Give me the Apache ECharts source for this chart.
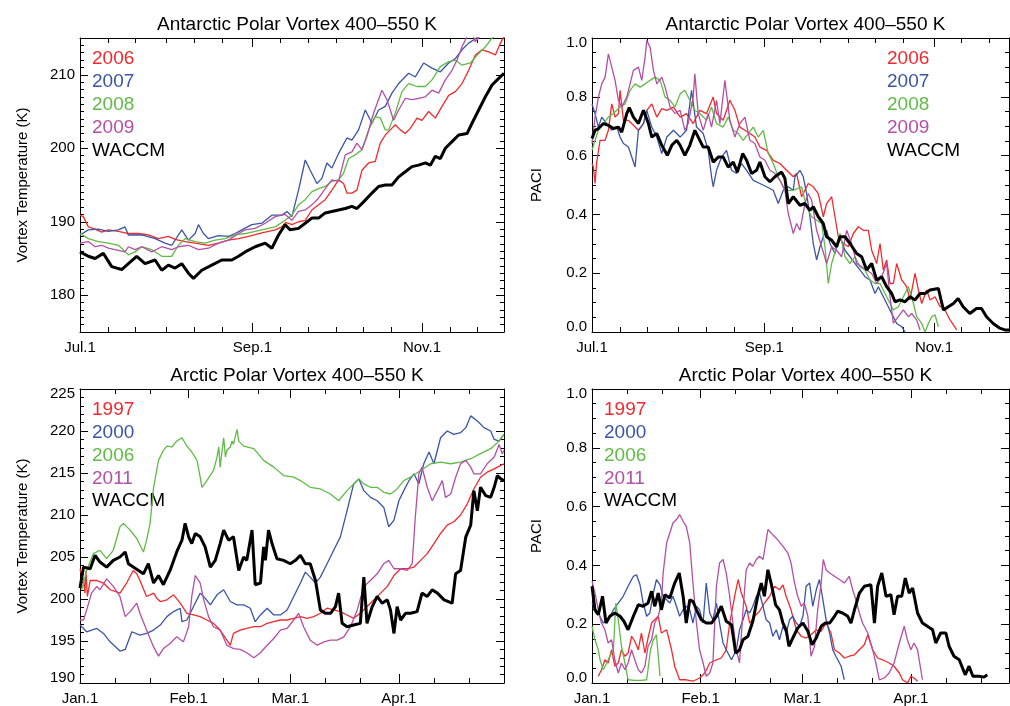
<!DOCTYPE html>
<html><head><meta charset="utf-8">
<script src="https://cdn.jsdelivr.net/npm/echarts@6/dist/echarts.min.js"></script>
<style>html,body{margin:0;padding:0;background:#fff}#c{width:1010px;height:706px}</style>
</head><body><div id="c"></div>
<script>
// ---------- Antarctic: days since Jul.1 ----------
const antTickDays = [0, 62, 123];
const antTickLabels = ['Jul.1', 'Sep.1', 'Nov.1'];
const antMinorDays = [10, 20, 31, 41, 51, 72, 82, 92, 102, 112, 133, 143];
// ---------- Arctic: days since Jan.1 ----------
const arcTickDays = [0, 31, 60, 91];
const arcTickLabels = ['Jan.1', 'Feb.1', 'Mar.1', 'Apr.1'];
const arcMinorDays = [10, 20, 41, 51, 70, 80, 101, 111];

const antYears = ['2006', '2007', '2008', '2009', 'WACCM'];
const arcYears = ['1997', '2000', '2006', '2011', 'WACCM'];

// Top-left: Antarctic vortex temperature (K)
const tlT2006 = [[0,190.9],[1.2,190.7],[3,189.3],[5.4,189.0],[7.8,188.6],[10.2,188.9],[13.8,188.7],[17.4,188.4],[21,188.4],[24.6,188.2],[28.2,187.7],[31.8,188.0],[34.2,187.6],[37.8,187.3],[41.4,187.1],[46.2,186.8],[49.8,187.1],[53.4,187.5],[57,187.7],[60.6,188.0],[65.4,188.5],[70.2,188.9],[72.6,189.3],[74,189.9],[76.2,189.6],[78.6,190.0],[81,190.2],[83.4,191.6],[85.8,192.3],[88.2,193.0],[90.6,194.3],[93,195.7],[94.8,195.2],[96,193.9],[97.8,193.9],[99.6,194.3],[101.4,197.0],[103.8,198.0],[106.2,198.2],[108,200.7],[109.8,201.8],[111.6,202.5],[113.4,203.2],[115.2,202.5],[117,202.0],[118.8,202.7],[121.2,204.1],[123,203.8],[125.4,205.0],[127.8,204.1],[130.2,205.7],[132.6,207.2],[135,207.7],[137.4,208.8],[139.8,210.6],[142.2,212.7],[144.6,213.4],[147,213.1],[149.4,212.7],[151.2,214.3],[152.5,215.2]];
const tlT2007 = [[0,188.2],[3,188.9],[6.6,189.0],[10.2,188.7],[13.8,188.9],[16.2,189.3],[17.4,188.2],[22.2,188.2],[27,187.7],[30.6,187.1],[33,186.8],[36.6,188.9],[39,187.5],[41.4,188.4],[42.6,189.6],[44.4,188.4],[46.2,187.7],[49.8,188.1],[53.4,188.0],[55.8,188.4],[58.2,188.9],[61.8,189.6],[65.4,189.8],[69,190.9],[72.6,190.9],[74.5,191.4],[76.2,190.7],[78.6,194.3],[81,198.4],[82.8,197.0],[85.2,195.2],[87,195.9],[88.8,198.0],[90.6,197.3],[93,199.3],[96,201.4],[97.8,201.1],[100.2,202.5],[102.6,205.2],[105,203.4],[107.4,205.2],[109.8,205.7],[112.2,207.5],[114.6,208.8],[118.2,210.2],[120.6,209.7],[123.6,211.6],[126.6,210.9],[129.6,210.4],[132.6,211.6],[135,212.2],[137.4,213.4],[139.8,214.3],[143.4,215.2],[146,216.2],[152.5,218]];
const tlT2008 = [[0,188.4],[3,187.7],[6.6,187.3],[10.2,187.1],[13.8,186.8],[17.4,185.5],[19.8,185.9],[22.2,186.6],[25.8,186.2],[29.4,185.3],[33,185.3],[35.4,186.8],[37.8,187.7],[41.4,187.3],[45,187.1],[48.6,187.5],[52.2,187.7],[55.8,188.2],[59.4,188.4],[63,188.7],[66.6,189.0],[70.2,189.3],[73.8,190.2],[76.2,190.9],[78.6,192.3],[81,193.0],[83.4,194.1],[85.8,194.5],[88.2,194.8],[90.6,195.5],[93,195.7],[94.8,196.6],[96.6,198.6],[99,199.1],[101.4,199.8],[103.8,202.5],[106.2,204.3],[108,204.1],[109.8,202.5],[111,202.5],[113.4,204.8],[115.8,207.7],[118.2,208.8],[121.2,208.4],[124.2,208.4],[126.6,209.3],[129.6,211.1],[132.6,211.8],[135,212.0],[137.4,211.3],[140.4,211.6],[143.4,212.9],[145.8,213.8],[148.2,215.0],[150.6,215.6],[152.5,216.2]];
const tlT2009 = [[0,187.1],[3,187.3],[5.4,186.6],[7.8,186.8],[10.2,186.4],[12.6,186.2],[16.2,185.9],[17.4,186.6],[19.8,186.2],[22.2,186.6],[25.8,185.9],[29.4,186.6],[33,186.2],[35.4,186.6],[39,186.8],[42.6,186.2],[46.2,186.4],[49.8,187.1],[53.4,187.5],[57,188.4],[59.4,188.9],[63,189.1],[66.6,189.8],[70.2,190.7],[73.8,191.0],[76.2,190.2],[78.6,191.4],[81,191.6],[83.4,192.3],[85.8,193.2],[88.2,194.5],[90.6,195.7],[93,195.5],[95.4,199.1],[97.8,199.5],[99.6,200.7],[101.4,199.8],[103.2,201.6],[105.6,204.8],[108.6,207.9],[110.4,206.6],[112.8,203.8],[114.6,205.2],[117,206.8],[119.4,206.6],[121.8,206.8],[124.2,207.0],[126.6,207.9],[129,207.5],[131.4,209.3],[133.8,210.6],[135.6,212.0],[137.4,213.8],[139.2,215.2],[141,215.6],[142.2,214.5],[144.6,215.6],[148,217]];
const tlTWaccm = [[0,185.9],[3,185.3],[5.4,185.0],[8.4,185.7],[11.4,183.9],[15,183.5],[17.4,184.3],[20.4,185.3],[23.4,184.3],[27,184.8],[29.4,183.4],[31.8,184.1],[34.2,183.7],[36.6,184.3],[39,183.0],[40.8,182.3],[43.8,183.4],[47.4,184.1],[51,184.8],[54.6,184.8],[57,185.3],[59.4,185.9],[63,186.6],[66.6,187.1],[69,186.4],[71.4,188.2],[73.8,189.6],[75.6,188.9],[78.6,189.1],[81,189.8],[83.4,190.5],[85.8,190.5],[88.2,191.2],[90.6,191.4],[93,191.6],[95.4,191.8],[97.8,192.1],[99.6,191.8],[102,192.7],[105,193.9],[107.4,194.8],[109.8,195.0],[112.2,195.0],[114.6,196.1],[117,196.8],[119.4,197.5],[121.8,197.7],[124.2,198.0],[126,197.7],[127.8,198.9],[129.6,198.6],[131.4,200.0],[133.8,200.9],[136.2,201.8],[139.2,202.0],[141,203.4],[143.4,205.2],[145.8,207.0],[148.2,208.6],[150.6,209.5],[152.5,210.2]];

// Top-right: Antarctic PACI
const trP2006 = [[0,0.573],[0.5,0.561],[1.1,0.505],[1.7,0.578],[2.9,0.652],[4.7,0.652],[5.9,0.686],[7.1,0.776],[8.3,0.731],[9.5,0.743],[10.1,0.822],[11.3,0.72],[13.1,0.72],[14.9,0.703],[16.7,0.686],[18.5,0.709],[19.7,0.754],[21.5,0.776],[23.3,0.731],[25.1,0.76],[26.9,0.754],[29.3,0.765],[31.7,0.731],[34,0.743],[36.4,0.709],[38.8,0.754],[41.2,0.743],[43.6,0.799],[44.8,0.743],[47.2,0.72],[49.6,0.788],[51.4,0.754],[53.2,0.697],[55,0.686],[56.8,0.675],[58.6,0.663],[60.4,0.629],[62.8,0.618],[65.2,0.584],[67.6,0.573],[70,0.55],[72.4,0.528],[73.6,0.539],[75.4,0.46],[77.8,0.505],[79.6,0.494],[81.4,0.471],[83.2,0.392],[84.4,0.437],[86.2,0.46],[87.4,0.392],[88.6,0.324],[90.4,0.301],[92.2,0.29],[94,0.335],[95.8,0.358],[97.6,0.346],[99.4,0.346],[100.6,0.278],[102.4,0.233],[103.6,0.301],[104.8,0.211],[106,0.245],[107.2,0.165],[108.4,0.165],[109.6,0.233],[111.4,0.177],[113.2,0.154],[114.4,0.109],[116.2,0.199],[117.4,0.143],[118.6,0.097],[120.4,0.143],[121.6,0.109],[123.4,0.12],[125.2,0.086],[126.4,0.086],[127.6,0.063],[128.8,0.041],[130,0.024],[131.2,0.007]];
const trP2007 = [[0,0.776],[1.1,0.743],[2.3,0.697],[3.5,0.731],[5.3,0.709],[7.1,0.686],[8.9,0.697],[10.1,0.663],[11.3,0.641],[13.1,0.629],[14.3,0.595],[15.5,0.561],[16.7,0.686],[18.5,0.709],[19.7,0.754],[21.5,0.697],[23.3,0.663],[25.1,0.607],[26.9,0.663],[29.3,0.686],[31.7,0.663],[34,0.686],[35.8,0.822],[37.6,0.697],[40,0.675],[41.8,0.618],[43,0.528],[43.6,0.494],[44.8,0.55],[46.6,0.595],[48.4,0.618],[50.2,0.55],[52,0.539],[53.8,0.573],[55.6,0.55],[58,0.516],[60.4,0.505],[62.8,0.494],[65.2,0.482],[67,0.437],[68.8,0.482],[70.6,0.494],[72.4,0.482],[73,0.528],[74.8,0.55],[76,0.528],[77.2,0.471],[78.4,0.392],[79.6,0.301],[80.8,0.245],[82,0.29],[83.2,0.324],[84.4,0.346],[85.6,0.301],[87.4,0.267],[89.2,0.324],[91,0.278],[92.8,0.256],[94.6,0.233],[96.4,0.211],[98.2,0.188],[100,0.177],[101.8,0.131],[103,0.154],[104.2,0.131],[106,0.097],[107.8,0.063],[109.6,0.029],[111.4,0.018],[112.6,0]];
const trP2008 = [[0,0.618],[1.1,0.652],[2.3,0.686],[4.1,0.709],[5.9,0.731],[7.7,0.743],[10.1,0.765],[11.9,0.776],[13.7,0.822],[15.5,0.844],[17.3,0.833],[19.1,0.844],[20.9,0.856],[22.7,0.867],[24.5,0.856],[26.3,0.799],[28.1,0.788],[29.9,0.765],[31.7,0.81],[33.4,0.822],[35.2,0.788],[37,0.754],[38.8,0.743],[41.2,0.72],[43,0.765],[44.8,0.709],[47.2,0.697],[49,0.731],[50.8,0.686],[52.6,0.675],[54.4,0.652],[56.2,0.675],[58,0.697],[59.8,0.663],[61.6,0.686],[63.4,0.607],[65.2,0.573],[67,0.528],[68.8,0.494],[70.6,0.482],[72.4,0.482],[75.4,0.494],[77.2,0.426],[79,0.392],[80.8,0.38],[82.6,0.369],[83.8,0.29],[85,0.165],[86.2,0.233],[88,0.29],[89.2,0.335],[91,0.256],[92.8,0.233],[94.6,0.256],[96.4,0.222],[98.2,0.211],[100,0.177],[101.8,0.165],[103.6,0.165],[105.4,0.131],[107.2,0.097],[108.4,0.075],[110.2,0.086],[112,0.12],[113.8,0.154],[115,0.12],[116.8,0.052],[118.6,0.029],[119.8,0],[121,0.029],[122.2,0.052],[123.4,0.058],[124.6,0.018]];
const trP2009 = [[0,0.641],[1.1,0.731],[2.3,0.799],[3.5,0.844],[4.7,0.867],[5.9,0.946],[7.1,0.901],[8.3,0.856],[9.5,0.788],[10.7,0.765],[12.5,0.799],[13.7,0.844],[14.9,0.89],[16.7,0.901],[17.9,0.856],[19.1,0.935],[19.7,0.992],[20.9,0.969],[22.1,0.89],[23.3,0.844],[25.1,0.867],[26.3,0.833],[28.1,0.765],[29.9,0.743],[31.7,0.754],[33.4,0.686],[34.6,0.709],[36.4,0.799],[37,0.878],[38.2,0.743],[40,0.686],[41.8,0.743],[43,0.697],[44.8,0.788],[46,0.709],[47.8,0.856],[49.6,0.72],[51.4,0.663],[53.2,0.709],[55,0.731],[56.8,0.652],[58.6,0.641],[60.4,0.595],[62.2,0.584],[64,0.55],[65.8,0.539],[67.6,0.516],[69.4,0.482],[70.6,0.403],[71.8,0.358],[72.4,0.335],[73.6,0.369],[74.8,0.346],[76.6,0.437],[77.8,0.471],[79,0.448],[80.8,0.346],[82.6,0.29],[84.4,0.233],[86.2,0.29],[88,0.278],[89.8,0.256],[91.6,0.346],[93.4,0.301],[95.2,0.233],[97,0.222],[98.8,0.211],[100.6,0.199],[102.4,0.165],[104.2,0.188],[106,0.233],[107.2,0.12],[108.4,0.03],[110.2,0.052],[112,0.075],[113.8,0.052],[115,0.063],[116.8,0.041],[118,0.007]];
const trPWaccm = [[0,0.658],[1.1,0.686],[2.3,0.692],[4.1,0.709],[5.9,0.703],[7.7,0.692],[9.5,0.697],[10.7,0.68],[12.5,0.743],[13.4,0.763],[14.9,0.731],[16.7,0.709],[18.5,0.754],[20.3,0.709],[21.5,0.663],[23.3,0.675],[25.1,0.635],[27.1,0.601],[28.7,0.635],[30.5,0.652],[31.7,0.635],[33.4,0.601],[35.2,0.635],[37,0.686],[38.8,0.652],[40,0.629],[41.8,0.629],[43.6,0.578],[45.4,0.595],[47.2,0.595],[49,0.561],[50.8,0.578],[52.3,0.544],[54.2,0.607],[55.6,0.584],[57.4,0.539],[59.2,0.55],[60.4,0.578],[62.2,0.528],[64,0.511],[65.8,0.528],[68.2,0.544],[69.4,0.522],[70.6,0.437],[72.4,0.46],[74.8,0.431],[76.6,0.437],[78.4,0.414],[79.6,0.426],[81.4,0.392],[83.2,0.369],[84.4,0.324],[86.2,0.312],[88,0.29],[89.2,0.324],[91,0.324],[92.8,0.301],[95.2,0.267],[97,0.256],[98.8,0.211],[100.6,0.233],[102.4,0.177],[104.2,0.188],[106,0.154],[107.8,0.131],[109,0.103],[110.8,0.109],[112.6,0.103],[114.4,0.12],[116.2,0.109],[118,0.131],[119.8,0.131],[121.6,0.143],[124.6,0.148],[126.4,0.075],[128.2,0.086],[130,0.097],[131.7,0.114],[133.5,0.086],[135.9,0.063],[138.3,0.08],[140.1,0.08],[141.9,0.052],[144.3,0.029],[146.7,0.013],[148.5,0.007],[150,0.007]];

// Bottom-left: Arctic vortex temperature (K)
const blT1997 = [[0,203.6],[1,202.2],[1.4,200.7],[1.7,203.4],[2.1,200.3],[2.9,202.2],[4.8,202.2],[6.7,201.9],[8.6,201.1],[10,200.9],[11.4,200.7],[13.3,201.9],[15.2,203.4],[16.2,203.0],[17.1,202.2],[19,200.3],[21,200.7],[21.9,200.1],[22.9,199.7],[24.8,199.9],[26.7,200.5],[28.6,199.5],[30.5,198.3],[32.4,198.1],[34.3,197.9],[36.2,197.5],[38.1,197.1],[40,196.3],[41.9,195.1],[42.9,194.5],[43.8,195.9],[45.7,196.3],[47.6,196.5],[49.6,196.7],[51.5,196.7],[53.4,197.1],[55.3,197.3],[57.2,197.5],[59.1,197.5],[61,197.7],[62.9,197.9],[64.8,197.7],[66.7,197.9],[68.6,198.3],[70.5,198.9],[72.4,198.7],[74.3,198.5],[76.2,198.1],[78.1,197.7],[80,198.3],[81.9,199.1],[83.9,199.9],[85.8,200.7],[87.7,201.5],[89.6,202.8],[91.5,203.6],[93.4,203.6],[95.3,203.8],[97.2,204.6],[99.1,205.4],[101,206.6],[102.9,207.8],[104.8,208.8],[106.7,209.2],[108.6,210.0],[110.5,211.3],[112.4,213.1],[114.3,214.5],[116.2,215.1],[118.2,215.5],[120.1,215.9],[121,216.1]];
const blT2000 = [[0,196.9],[1.9,196.1],[4.8,196.5],[6.7,195.9],[8.6,194.9],[11.4,193.8],[12.9,194.0],[14.8,196.1],[17.1,195.7],[19,195.9],[21,196.3],[22.9,196.9],[24.8,197.9],[26.7,198.5],[28.6,198.9],[29.1,197.3],[30.5,197.5],[32.4,199.1],[34.3,200.7],[35.7,200.1],[37.2,199.3],[39.1,200.5],[41,201.1],[42.9,199.7],[44.8,199.3],[46.7,199.3],[48.6,198.9],[50,197.3],[51.5,198.1],[53.4,198.9],[55.3,198.1],[57.2,198.1],[59.1,198.7],[61,200.3],[62.9,201.9],[64.3,203.2],[65.7,202.6],[67.2,201.9],[68.6,202.6],[70.5,204.2],[72.4,205.8],[74.3,207.4],[76.2,210.5],[78.1,213.7],[79.6,214.3],[81,212.9],[82.9,212.1],[84.8,211.7],[86.7,210.9],[88.1,208.6],[89.6,209.4],[91,211.7],[92.4,212.9],[93.9,214.1],[95.3,214.9],[96.7,213.7],[98.1,216.1],[99.6,217.5],[101,216.1],[102.9,219.2],[104.8,220.0],[106.7,219.6],[108.6,219.8],[110.1,220.4],[111.5,221.8],[113.4,221.2],[115.3,220.4],[117.2,220.0],[118.2,219.0],[119.6,218.8],[121,219.6]];
const blT2006 = [[0.5,201.1],[1.9,203.4],[3.8,205.4],[5.7,205.8],[7.6,204.8],[9.5,205.8],[11.4,208.6],[12.4,209.0],[14.3,208.2],[16.2,207.2],[18.1,205.6],[19,207.0],[20,209.0],[21,213.3],[22.4,216.5],[23.8,217.7],[24.8,218.2],[26.2,218.1],[27.6,218.8],[29.1,219.2],[30.5,218.2],[31.9,217.5],[33.4,216.5],[34.3,214.5],[34.8,213.3],[36.2,214.1],[38.1,215.3],[39.1,216.9],[39.6,218.1],[40,215.7],[41,219.2],[41.5,216.9],[41.9,217.7],[42.9,218.1],[43.4,218.8],[43.8,218.4],[44.8,220.2],[45.3,218.8],[46.7,218.2],[49.6,217.9],[52.4,216.5],[55.3,215.7],[58.1,214.7],[61,214.5],[62.9,214.1],[65.7,213.3],[68.6,213.1],[71.5,212.5],[73.8,211.7],[76.2,212.9],[78.1,213.7],[79.6,214.3],[81,213.7],[82.9,213.3],[84.8,213.3],[86.7,212.7],[88.6,212.5],[90.5,213.1],[92.4,214.1],[94.3,214.5],[97.2,215.3],[100.1,216.1],[102.9,216.3],[105.8,216.1],[108.6,216.3],[111.5,216.7],[114.3,217.3],[117.2,217.9],[119.1,218.6],[121,219.6]];
const blT2011 = [[0,197.5],[1,197.5],[1.9,198.7],[3.3,200.7],[4.8,201.5],[5.7,201.1],[7.6,202.4],[9.5,201.5],[11.4,200.3],[12.9,197.9],[14.3,198.5],[16.2,199.5],[17.1,198.3],[19,196.3],[21,194.3],[22.4,193.2],[23.8,194.1],[25.7,194.7],[27.6,195.5],[29.5,194.9],[31,196.7],[31.9,200.3],[32.9,202.8],[34.3,201.9],[35.3,199.9],[36.7,197.9],[38.1,196.7],[40,196.3],[41.9,194.5],[43.8,194.1],[45.7,194.0],[47.6,193.6],[49.6,193.0],[51.5,193.6],[53.4,194.5],[55.3,195.3],[57.2,196.3],[59.1,196.5],[61,197.5],[62.4,198.3],[63.8,196.7],[65.7,195.1],[67.7,194.5],[69.6,194.9],[71.5,195.1],[73.4,195.1],[75.3,195.5],[77.2,196.7],[79.1,198.7],[81,201.5],[82.9,202.2],[84.8,203.0],[86.7,204.2],[88.1,204.6],[89.6,203.6],[91.5,203.6],[93.4,203.4],[94.8,204.2],[95.7,209.8],[96.7,214.9],[97.6,215.7],[99.1,213.3],[100.5,211.7],[102,212.9],[103.4,214.1],[104.3,212.1],[105.8,212.5],[107.2,214.5],[108.6,216.1],[110.1,216.5],[111.5,215.7],[112.4,214.9],[114.3,214.9],[116.2,216.1],[118.2,216.9],[119.6,218.4],[120.5,217.3],[121,217.7]];
const blTWaccm = [[0,201.3],[1,203.8],[2.9,203.6],[4.3,205.2],[5.7,204.4],[7.6,203.8],[9.5,204.6],[11.4,205.0],[12.9,205.6],[13.8,204.2],[15.2,203.8],[16.7,203.4],[18.1,203.0],[19.5,204.2],[21,201.9],[22.4,202.8],[23.8,201.7],[25.7,203.4],[27.6,205.6],[29.1,207.0],[30,209.0],[31,207.4],[31.9,206.6],[32.9,207.8],[34.3,207.4],[35.7,206.2],[37.2,203.8],[38.6,204.6],[40,206.6],[41,208.2],[42.4,207.0],[43.8,207.4],[45.3,203.4],[46.7,205.0],[47.6,204.6],[49.1,208.2],[50,201.7],[51.5,201.9],[52.4,206.2],[52.9,204.6],[53.8,208.2],[54.8,206.6],[56.2,204.8],[58.1,204.6],[60,204.2],[61.5,204.6],[62.9,205.2],[64.3,204.2],[65.7,204.2],[67.2,202.2],[68.6,198.7],[70,198.3],[71.5,198.3],[72.9,199.1],[73.8,200.7],[74.8,197.1],[76.2,196.7],[78.1,196.9],[80,197.1],[81,202.6],[81.9,197.1],[83.4,199.1],[84.8,200.3],[86.2,199.5],[87.7,199.9],[88.6,198.7],[89.6,195.9],[90.5,199.1],[91.5,197.5],[92.9,198.3],[94.3,198.3],[96.2,198.5],[97.6,200.7],[99.1,200.3],[100.5,201.1],[102,200.7],[103.9,199.9],[106.2,199.5],[107.2,203.0],[108.6,203.4],[110.1,207.4],[111.5,208.8],[112.4,212.9],[113.4,210.5],[114.3,213.3],[115.8,212.3],[117.2,212.1],[118.2,213.3],[119.1,214.7],[120.1,214.3],[121,214.1]];

// Bottom-right: Arctic PACI
const brP1997 = [[1.8,0.023],[2.7,0.045],[3.7,0.079],[4.6,0.068],[5.6,0.113],[6.5,0.057],[7.5,0.068],[8.4,0.113],[9.4,0.091],[10.3,0.102],[11.3,0.159],[12.2,0.142],[13.2,0.113],[14.1,0.17],[15.1,0.102],[16,0.153],[17,0.204],[17.9,0.215],[18.9,0.227],[19.8,0.17],[21.3,0.181],[22.7,0.113],[23.6,0.057],[25,0.011],[26.9,0.011],[28.8,0.006],[30.7,0.017],[32.2,0.034],[33.6,0.068],[35.5,0.079],[36.9,0.085],[38.3,0.113],[39.3,0.204],[40.7,0.295],[41.7,0.352],[42.6,0.306],[44,0.261],[45,0.204],[46.4,0.227],[47.8,0.244],[49.2,0.272],[50.7,0.295],[52.1,0.329],[53.5,0.317],[54.5,0.334],[55.4,0.295],[56.8,0.249],[58.3,0.181],[59.7,0.159],[61.1,0.153],[62.5,0.164],[64,0.181],[65.4,0.176],[66.8,0.204],[68.2,0.17],[69.2,0.113],[70.6,0.102],[72,0.085],[73.4,0.091],[74.9,0.096],[76.3,0.113],[77.7,0.13],[78.7,0.164],[80.1,0.113],[81.5,0.085],[82.9,0.079],[84.8,0.068],[86.2,0.057],[87.7,0.034],[88.6,0.011],[90.1,0],[91,0.023],[91.9,0.017],[92.9,0.006]];
const brP2000 = [[0,0.272],[0.85,0.255],[1.8,0.238],[3.2,0.204],[4.6,0.215],[6.1,0.249],[7.5,0.272],[8.9,0.295],[10.3,0.329],[11.8,0.363],[12.7,0.368],[13.7,0.334],[14.6,0.272],[15.6,0.227],[16.5,0.238],[17.5,0.306],[18.4,0.352],[19.4,0.334],[20.3,0.295],[21.3,0.283],[22.2,0.272],[23.1,0.295],[24.1,0.261],[25,0.227],[26,0.249],[26.9,0.261],[27.9,0.249],[28.8,0.204],[29.8,0.261],[30.7,0.249],[31.7,0.204],[32.6,0.34],[33.6,0.238],[34.5,0.215],[35.5,0.272],[36.4,0.204],[37.4,0.136],[38.3,0.113],[39.8,0.079],[41.2,0.113],[42.1,0.181],[43.1,0.215],[44,0.249],[45,0.238],[45.9,0.261],[46.9,0.295],[47.8,0.306],[48.8,0.261],[49.7,0.215],[50.7,0.204],[51.6,0.159],[52.6,0.181],[53.5,0.147],[54.5,0.193],[55.4,0.17],[56.4,0.215],[57.3,0.227],[58.3,0.204],[59.2,0.193],[60.2,0.227],[61.1,0.329],[62.1,0.34],[63,0.261],[64,0.317],[64.9,0.352],[65.9,0.283],[66.8,0.215],[67.8,0.17],[68.7,0.113],[69.6,0.091],[71.1,0.057],[72,0.011]];
const brP2006 = [[0,0.193],[0.85,0.147],[1.8,0.113],[2.3,0.079],[3.2,0.045],[4.2,0.068],[5.1,0.091],[6.1,0.113],[6.8,0.272],[7.5,0.215],[8.4,0.125],[9.4,0.068],[10.3,0.011],[12.2,0.009],[14.1,0.009],[15.6,0.011],[16.7,0.113],[17.5,0.147],[18.4,0.164],[19.4,0.023]];
const brP2011 = [[0,0.346],[0.85,0.306],[1.8,0.249],[2.7,0.204],[3.7,0.181],[4.6,0.136],[5.6,0.147],[6.5,0.079],[7.5,0.034],[8.4,0.068],[9.4,0.045],[10.3,0.068],[11.3,0.113],[12.2,0.079],[13.2,0.045],[14.1,0.034],[15.1,0.057],[16,0.125],[17,0.147],[17.9,0.204],[18.9,0.227],[19.8,0.272],[20.3,0.374],[21.3,0.476],[22.2,0.51],[23.1,0.544],[24.1,0.556],[25,0.573],[26,0.55],[26.9,0.533],[27.9,0.476],[28.8,0.34],[29.8,0.204],[30.7,0.113],[31.7,0.068],[32.6,0.023],[33.6,0.034],[34.5,0.068],[35.5,0.329],[36.4,0.408],[37.4,0.42],[38.3,0.374],[39.3,0.295],[40.2,0.204],[41.2,0.113],[42.1,0.068],[43.1,0.249],[44,0.385],[45,0.408],[45.9,0.397],[46.9,0.42],[47.8,0.431],[48.8,0.42],[50.2,0.522],[51.6,0.504],[53,0.487],[54.5,0.465],[55.9,0.442],[56.8,0.408],[57.8,0.34],[58.7,0.295],[59.7,0.261],[60.6,0.272],[61.6,0.227],[62.5,0.091],[63.5,0.125],[64.4,0.249],[65.4,0.34],[66,0.42],[66.8,0.385],[67.8,0.374],[69.2,0.363],[70.6,0.352],[72,0.34],[73.4,0.363],[74.4,0.317],[75.3,0.283],[76.3,0.238],[77.2,0.204],[78.7,0.17],[80.1,0.113],[81,0.068],[82,0.011],[83.4,0.017],[84.8,0.034],[86.2,0.068],[87.7,0.136],[89.1,0.193],[90,0.147],[91,0.113],[91.9,0.136],[92.9,0.113],[94.3,0.011]];
const brPWaccm = [[0,0.329],[0.85,0.249],[1.8,0.232],[3,0.295],[4,0.204],[5.1,0.227],[6.5,0.238],[8,0.227],[9.1,0.21],[10.3,0.181],[11.8,0.227],[13.2,0.266],[14.6,0.261],[16,0.272],[17,0.312],[17.9,0.261],[18.9,0.306],[19.8,0.249],[20.8,0.3],[22.2,0.289],[23.6,0.34],[24.9,0.374],[26,0.295],[26.9,0.204],[27.9,0.283],[28.8,0.278],[29.8,0.249],[31.2,0.215],[32.6,0.204],[34.1,0.204],[35.5,0.227],[36.9,0.261],[38.3,0.21],[39.8,0.198],[41,0.102],[42.1,0.113],[43.1,0.147],[44.5,0.159],[45.9,0.21],[47.3,0.295],[48.3,0.34],[49.2,0.295],[50.2,0.385],[51.1,0.34],[52.4,0.266],[53.5,0.249],[54.5,0.204],[55.4,0.181],[56.2,0.125],[57.3,0.153],[58.7,0.187],[60.2,0.204],[61.6,0.176],[62.8,0.13],[64,0.153],[65.4,0.193],[66.6,0.204],[67.8,0.204],[69.2,0.227],[70.1,0.244],[71.5,0.238],[73,0.227],[73.9,0.204],[74.9,0.249],[76.3,0.306],[77.7,0.329],[79.6,0.334],[80.6,0.204],[81.5,0.329],[82.7,0.374],[83.9,0.295],[85.3,0.3],[86.2,0.232],[87.2,0.295],[88.4,0.295],[89.4,0.357],[90.5,0.306],[91.5,0.323],[92.9,0.238],[94.3,0.204],[95.7,0.193],[97.2,0.181],[98.1,0.136],[99.5,0.17],[101,0.17],[101.9,0.125],[103.3,0.091],[104.8,0.079],[106.5,0.028],[107.6,0.057],[108.7,0.023],[110.4,0.023],[111.9,0.02],[112.8,0.028]];

// ---------- styling ----------
const FONT = '"Liberation Sans", Arial, Helvetica, sans-serif';
const COLS = ['#f22a2e', '#3a55a5', '#60bb46', '#b44fa6', '#000000'];
const BLACK = '#000';

const panels = [
  { g: 0, left: 80, top: 38, width: 424, height: 294, xmax: 152.5, ymin: 175, ymax: 215,
    title: 'Antarctic Polar Vortex 400\u2013550 K', ticks: antTickDays, tickLabels: antTickLabels, minor: antMinorDays,
    yMajor: [180, 190, 200, 210], yLabelAt: [180, 190, 200, 210], yFmt: v => String(Math.round(v)), yMinorStep: 1,
    yName: 'Vortex Temperature (K)', nameGap: 50,
    legendX: 92, legendY: 60.7, legendDy: 23, names: antYears,
    series: [tlT2006, tlT2007, tlT2008, tlT2009, tlTWaccm] },
  { g: 1, left: 592, top: 38, width: 417, height: 294, xmax: 150, ymin: 0, ymax: 1,
    title: 'Antarctic Polar Vortex 400\u2013550 K', ticks: antTickDays, tickLabels: antTickLabels, minor: antMinorDays,
    yMajor: [0.2, 0.4, 0.6, 0.8], yLabelAt: [0.016, 0.2, 0.4, 0.6, 0.8, 0.984], yFmt: v => (Math.round(v * 5) / 5).toFixed(1), yMinorStep: 0.05,
    yName: 'PACI', nameGap: 48,
    legendX: 887, legendY: 60.7, legendDy: 23, names: antYears,
    series: [trP2006, trP2007, trP2008, trP2009, trPWaccm] },
  { g: 2, left: 80, top: 389, width: 424, height: 294, xmax: 121, ymin: 190, ymax: 225,
    title: 'Arctic Polar Vortex 400\u2013550 K', ticks: arcTickDays, tickLabels: arcTickLabels, minor: arcMinorDays,
    yMajor: [195, 200, 205, 210, 215, 220], yLabelAt: [190.6, 195, 200, 205, 210, 215, 220, 224.4], yFmt: v => String(Math.round(v / 5) * 5), yMinorStep: 1,
    yName: 'Vortex Temperature (K)', nameGap: 50,
    legendX: 92, legendY: 411.7, legendDy: 22.75, names: arcYears,
    series: [blT1997, blT2000, blT2006, blT2011, blTWaccm] },
  { g: 3, left: 592, top: 389, width: 417, height: 294, xmax: 119, ymin: 0, ymax: 1,
    title: 'Arctic Polar Vortex 400\u2013550 K', ticks: arcTickDays, tickLabels: arcTickLabels, minor: arcMinorDays,
    yMajor: [0.2, 0.4, 0.6, 0.8], yLabelAt: [0.016, 0.2, 0.4, 0.6, 0.8, 0.984], yFmt: v => (Math.round(v * 5) / 5).toFixed(1), yMinorStep: 0.05,
    yName: 'PACI', nameGap: 48,
    legendX: 604, legendY: 411.7, legendDy: 22.75, names: arcYears,
    series: [brP1997, brP2000, brP2006, brP2011, brPWaccm] }
];

function minorList(min, max, step, majors) {
  const out = [];
  const n = Math.round((max - min) / step);
  for (let i = 1; i < n; i++) {
    const v = +(min + i * step).toFixed(4);
    if (!majors.some(m => Math.abs(m - v) < step / 10)) out.push(v);
  }
  return out;
}

const grid = [], xAxis = [], yAxis = [], series = [], title = [], graphic = [];

function tick(len, vals) {
  return { show: true, inside: true, length: len, customValues: vals, lineStyle: { color: BLACK, width: 1 } };
}

panels.forEach(p => {
  grid.push({ left: p.left, top: p.top, width: p.width, height: p.height });
  const mkX = (pos, line, tk, lbl) => ({ type: 'value', gridIndex: p.g, min: 0, max: p.xmax, position: pos,
    axisLine: { show: line, onZero: false, lineStyle: { color: BLACK, width: 1 } },
    axisTick: tk, axisLabel: lbl, splitLine: { show: false }, minorTick: { show: false } });
  xAxis.push(mkX('bottom', true, tick(9, p.ticks), { show: true, customValues: p.ticks, margin: 8, color: BLACK, fontSize: 15, fontFamily: FONT,
      formatter: v => { const i = p.ticks.indexOf(v); return i >= 0 ? p.tickLabels[i] : ''; } }));
  xAxis.push(mkX('bottom', false, tick(5, p.minor), { show: false }));
  xAxis.push(mkX('top', true, tick(9, p.ticks.filter(v => v > 0)), { show: false }));
  xAxis.push(mkX('top', false, tick(5, p.minor), { show: false }));

  const yMinor = minorList(p.ymin, p.ymax, p.yMinorStep, p.yMajor.concat([p.ymin, p.ymax]));
  const mkY = (pos, line, tk, lbl, extra) => Object.assign({ type: 'value', gridIndex: p.g, min: p.ymin, max: p.ymax, position: pos,
    axisLine: { show: line, onZero: false, lineStyle: { color: BLACK, width: 1 } },
    axisTick: tk, axisLabel: lbl, splitLine: { show: false }, minorTick: { show: false } }, extra || {});
  yAxis.push(mkY('left', true, tick(8, p.yMajor), { show: true, customValues: p.yLabelAt, formatter: p.yFmt, margin: 5, color: BLACK, fontSize: 15, fontFamily: FONT },
    { name: p.yName, nameLocation: 'middle', nameRotate: 90, nameGap: p.nameGap, nameTextStyle: { color: BLACK, fontSize: 15, fontFamily: FONT } }));
  yAxis.push(mkY('left', false, tick(4, yMinor), { show: false }));
  yAxis.push(mkY('right', true, tick(8, p.yMajor), { show: false }));
  yAxis.push(mkY('right', false, tick(4, yMinor), { show: false }));

  p.series.forEach((d, i) => {
    series.push({ type: 'line', name: p.names[i] + '-' + p.g, xAxisIndex: p.g * 4, yAxisIndex: p.g * 4, data: d,
      symbol: 'none', showSymbol: false, silent: true, clip: true, z: i === 4 ? 4 : 2,
      lineStyle: { color: COLS[i], width: i === 4 ? 3 : 1.3 }, itemStyle: { color: COLS[i] } });
  });

  title.push({ text: p.title, left: p.left + p.width / 2, top: p.top - 28, textAlign: 'center',
    textStyle: { color: BLACK, fontSize: 19, fontWeight: 'normal', fontFamily: FONT } });

  p.names.forEach((n, i) => {
    graphic.push({ type: 'text', left: p.legendX, top: p.legendY + i * p.legendDy - 11, silent: true,
      style: { text: n, fill: COLS[i], font: '19px ' + FONT } });
  });
});

const chart = echarts.init(document.getElementById('c'), null, { renderer: 'canvas' });
chart.setOption({
  animation: false, backgroundColor: '#fff',
  textStyle: { fontFamily: FONT },
  title, grid, xAxis, yAxis, series, graphic
});
</script></body></html>
